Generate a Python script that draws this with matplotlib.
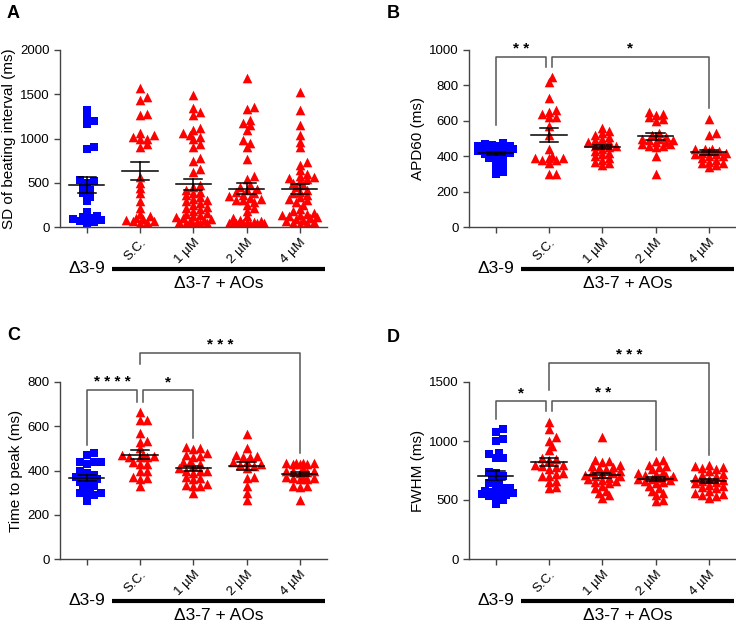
import numpy as np
import matplotlib
matplotlib.use("Agg")
import matplotlib.pyplot as plt
import matplotlib.transforms as mtransforms

plt.rcParams['font.family'] = ['Liberation Sans', 'DejaVu Sans']

groups = ["Δ3-9", "S.C.", "1 µM", "2 µM", "4 µM"]
tick_labels = ["", "S.C.", "1 µM", "2 µM", "4 µM"]

# A: SD of beating interval (ms)
sd_d39 = [1322, 1230, 1200, 1160, 900, 880, 530, 520, 500, 450, 420, 380, 340, 290,
          170, 120, 110, 100, 90, 80, 70, 60, 50]
sd_sc = [1567, 1470, 1435, 1280, 1260, 1060, 1040, 1020, 1000, 990, 940, 900, 560, 500,
         440, 380, 290, 210, 150, 120, 100, 90, 80, 70, 70, 60, 50]
sd_1 = [1491, 1340, 1300, 1260, 1120, 1100, 1060, 1040, 1020, 990, 940, 900, 780, 750, 650,
        620, 480, 450, 420, 400, 380, 360, 340, 320, 300, 290, 270, 250, 230, 210, 200, 180,
        160, 150, 130, 120, 110, 100, 90, 80, 70, 60, 50, 40, 60, 50, 30]
sd_2 = [1680, 1360, 1330, 1210, 1170, 1150, 1100, 980, 950, 900, 770, 580, 540, 470, 450,
        430, 420, 400, 380, 360, 350, 330, 320, 310, 300, 280, 250, 220, 180, 120, 100, 80,
        70, 60, 50, 50, 40, 40, 30, 30, 20, 20, 10, 60, 40, 20]
sd_4 = [1529, 1320, 1150, 1040, 960, 900, 740, 700, 640, 600, 580, 560, 550, 540, 520, 500,
        470, 450, 420, 400, 380, 360, 340, 320, 300, 280, 250, 200, 180, 160, 150, 140, 130,
        120, 110, 100, 90, 80, 70, 60, 50, 40, 30]

# B: APD60 (ms)
apd_d39 = [475, 470, 465, 460, 460, 455, 450, 450, 445, 440, 440, 435, 430, 430, 425, 420,
           415, 410, 400, 390, 380, 370, 350, 330, 310, 300]
apd_sc = [845, 820, 730, 660, 650, 640, 620, 620, 570, 520, 440, 400, 390, 390, 390, 380,
          380, 360, 300, 300]
apd_1 = [560, 540, 530, 520, 510, 500, 490, 480, 480, 470, 460, 460, 450, 440, 430, 420,
         410, 400, 390, 380, 370, 360, 350]
apd_2 = [650, 640, 630, 620, 610, 600, 530, 520, 510, 500, 500, 490, 490, 480, 480, 470,
         470, 460, 460, 450, 400, 300]
apd_4 = [610, 530, 520, 440, 440, 440, 430, 430, 420, 420, 410, 410, 400, 400, 390, 380,
         370, 360, 360, 350, 340]

# C: Time to peak (ms)
ttp_d39 = [480, 470, 440, 440, 440, 430, 400, 390, 380, 370, 370, 360, 360, 350, 340, 330,
           320, 310, 300, 300, 290, 290, 260]
ttp_sc = [665, 630, 630, 570, 535, 530, 500, 470, 470, 465, 460, 460, 460, 440, 430, 430,
          400, 400, 370, 365, 360, 330]
ttp_1 = [505, 500, 495, 480, 470, 465, 460, 440, 440, 430, 420, 410, 400, 400, 400, 390,
         370, 365, 360, 340, 335, 330, 330, 300]
ttp_2 = [565, 500, 470, 465, 460, 460, 440, 440, 430, 425, 420, 410, 370, 365, 330, 300, 265]
ttp_4 = [435, 435, 435, 435, 430, 430, 430, 405, 400, 400, 400, 395, 390, 370, 370, 365,
         365, 360, 360, 330, 330, 325, 265]

# D: FWHM (ms)
fw_d39 = [1100, 1080, 1020, 1000, 900, 890, 860, 860, 740, 730, 700, 680, 660, 640, 620,
          600, 600, 580, 570, 560, 560, 550, 540, 530, 520, 500, 470]
fw_sc = [1165, 1100, 1030, 1000, 960, 920, 860, 850, 840, 800, 800, 790, 780, 760, 730,
         720, 700, 700, 660, 650, 610, 600]
fw_1 = [1030, 840, 830, 820, 800, 790, 780, 770, 760, 750, 740, 730, 720, 710, 700, 700,
        690, 680, 670, 660, 650, 640, 620, 600, 580, 560, 540, 520]
fw_2 = [840, 830, 800, 790, 780, 760, 740, 730, 720, 710, 700, 700, 690, 680, 680, 670,
        660, 650, 640, 620, 600, 580, 560, 540, 500, 490]
fw_4 = [800, 790, 780, 770, 760, 750, 720, 710, 700, 690, 680, 670, 660, 650, 640, 630,
        620, 610, 600, 580, 560, 550, 540, 530, 520]

# significance: (x_left, x_right, top, left_leg_end, right_leg_end, label)
sig_b = [(0, 0.95, 963, 576, 906, "**"), (1.05, 4, 963, 906, 672, "*")]
sig_c = [(0, 0.95, 764, 515, 711, "****"), (1.05, 2, 764, 711, 547, "*"),
         (1, 4, 930, 881, 478, "***")]
sig_d = [(0, 0.95, 1339, 1184, 1254, "*"), (1.05, 3, 1339, 1254, 924, "**"),
         (1, 4, 1658, 1432, 881, "***")]

BLUE = "#0000ff"
RED = "#ff0000"
PX_X = 53.3     # pixels per category unit
PX_H = 177.0    # pixel height of the axes


def swarm(vals, px_y, diam=5.0, step=3.5, cap=19.0):
    # simple beeswarm in pixel space, returns x offsets in category units
    vals = np.asarray(vals, float)
    order = np.argsort(vals)
    placed = []
    offs = np.zeros(len(vals))
    cands = [0.0]
    k = 1
    while k * step <= cap:
        cands += [k * step, -k * step]
        k += 1
    for i in order:
        y = vals[i] * px_y
        best, best_d = 0.0, -1
        for c in cands:
            if placed:
                d = min(np.hypot(c - px, y - py) for px, py in placed)
            else:
                d = 99
            if d >= diam:
                best = c
                break
            if d > best_d:
                best, best_d = c, d
        placed.append((best, y))
        offs[i] = best / PX_X
    return offs


def panel(ax, data, ymax, ystep, ylabel, letter, letter_xy, sigs):
    px_y = PX_H / ymax
    for i, vals in enumerate(data):
        offs = swarm(vals, px_y)
        if i == 0:
            ax.scatter(i + offs, vals, marker='s', s=40, color=BLUE, linewidths=0, zorder=2)
        else:
            ax.scatter(i + offs, vals, marker='^', s=48, color=RED, linewidths=0, zorder=2)
        m = np.mean(vals)
        se = np.std(vals, ddof=1) / np.sqrt(len(vals))
        ax.plot([i - 0.33, i + 0.33], [m, m], color='black', lw=1.1, zorder=3)
        ax.plot([i, i], [m - se, m + se], color='black', lw=1.1, zorder=3)
        for v in (m - se, m + se):
            ax.plot([i - 0.17, i + 0.17], [v, v], color='black', lw=1.1, zorder=3)

    ax.set_xlim(-0.5, 4.5)
    ax.set_ylim(0, ymax)
    ax.set_yticks(np.arange(0, ymax + 1, ystep))
    ax.set_xticks(range(5))
    ax.set_xticklabels(tick_labels, rotation=45, ha='right', rotation_mode='anchor', fontsize=9.5)
    ax.tick_params(axis='y', labelsize=9.5, direction='out', length=4, width=1, color='#444444')
    ax.tick_params(axis='x', direction='out', length=4, width=1, color='#444444', pad=3)
    for s in ('top', 'right'):
        ax.spines[s].set_visible(False)
    for s in ('left', 'bottom'):
        ax.spines[s].set_color('#444444')
        ax.spines[s].set_linewidth(1.0)
    ax.set_ylabel(ylabel, fontsize=11, labelpad=3)

    tr = mtransforms.blended_transform_factory(ax.transData, ax.transAxes)
    ax.text(0, -0.232, groups[0], transform=tr, ha='center', va='center', fontsize=12.5)
    ax.plot([0.47, 4.47], [-0.24, -0.24], transform=tr, color='black', lw=3,
            clip_on=False, solid_capstyle='butt')
    ax.text(2.48, -0.318, "Δ3-7 + AOs", transform=tr, ha='center', va='center', fontsize=12.5)

    fig.text(letter_xy[0] / 736, 1 - letter_xy[1] / 626, letter, fontsize=13,
             fontweight='bold', ha='left', va='center')

    for x0, x1, top, l0, l1, lab in sigs:
        ax.plot([x0, x0, x1, x1], [l0, top, top, l1], color='#555555', lw=1.1,
                clip_on=False, zorder=1)
        ax.text((x0 + x1) / 2, top + ymax * 0.045, " ".join(lab), ha='center', va='center',
                fontsize=11, fontweight='bold', clip_on=False)


fig = plt.figure(figsize=(7.36, 6.26), dpi=100)
W = 5 * PX_X / 736
H = PX_H / 626
axA = fig.add_axes([60 / 736, 1 - 227 / 626, W, H])
axB = fig.add_axes([469 / 736, 1 - 227 / 626, W, H])
axC = fig.add_axes([60 / 736, 1 - 559 / 626, W, H])
axD = fig.add_axes([469 / 736, 1 - 559 / 626, W, H])

panel(axA, [sd_d39, sd_sc, sd_1, sd_2, sd_4], 2000, 500, "SD of beating interval (ms)",
      "A", (7, 13), [])
panel(axB, [apd_d39, apd_sc, apd_1, apd_2, apd_4], 1000, 200, "APD60 (ms)",
      "B", (387, 13), sig_b)
panel(axC, [ttp_d39, ttp_sc, ttp_1, ttp_2, ttp_4], 800, 200, "Time to peak (ms)",
      "C", (7, 336), sig_c)
panel(axD, [fw_d39, fw_sc, fw_1, fw_2, fw_4], 1500, 500, "FWHM (ms)",
      "D", (387, 337), sig_d)

fig.savefig("out.png", dpi=100)
